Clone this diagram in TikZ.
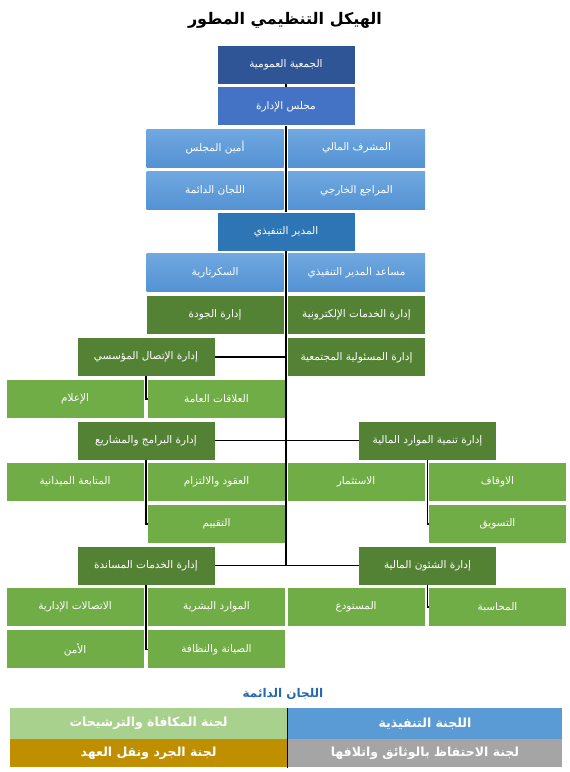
\documentclass[tikz,border=0pt]{standalone}
\usepackage{fontspec}
\usepackage{xcolor}
\usepackage{tikz}
\usetikzlibrary{positioning,calc}
\TeXXeTstate=1
\newfontfamily\arabicfont[Script=Arabic]{DejaVu Sans}
\definecolor{orgNavy}{RGB}{47,85,151}
\definecolor{orgBlue}{RGB}{68,114,196}
\definecolor{orgSkyTop}{RGB}{112,168,225}
\definecolor{orgSkyBot}{RGB}{84,146,210}
\definecolor{orgSteel}{RGB}{46,117,182}
\definecolor{orgForest}{RGB}{84,130,53}
\definecolor{orgLeaf}{RGB}{112,173,71}
\definecolor{orgMint}{RGB}{169,209,142}
\definecolor{orgSea}{RGB}{91,155,213}
\definecolor{orgGold}{RGB}{191,143,0}
\definecolor{orgGray}{RGB}{165,165,165}
\definecolor{orgHead}{RGB}{36,104,176}
\newcommand{\artext}[1]{{\arabicfont\beginR #1\endR}}

\begin{document}
\begin{tikzpicture}[
    x=1pt, y=-1pt,
    boxN/.style={rectangle, fill=orgNavy, minimum width=137pt, minimum height=38pt, inner sep=1pt, align=center, text=white, font=\fontsize{10.5}{12}\selectfont},
    boxB/.style={rectangle, fill=orgBlue, minimum width=137pt, minimum height=38pt, inner sep=1pt, align=center, text=white, font=\fontsize{10.5}{12}\selectfont},
    boxS/.style={rectangle, top color=orgSkyTop, bottom color=orgSkyBot, minimum width=137pt, minimum height=38pt, inner sep=1pt, align=center, text=white, font=\fontsize{10.5}{12}\selectfont},
    boxT/.style={rectangle, fill=orgSteel, minimum width=137pt, minimum height=38pt, inner sep=1pt, align=center, text=white, font=\fontsize{10.5}{12}\selectfont},
    boxD/.style={rectangle, fill=orgForest, minimum width=137pt, minimum height=38pt, inner sep=1pt, align=center, text=white, font=\fontsize{10.5}{12}\selectfont},
    boxL/.style={rectangle, fill=orgLeaf, minimum width=137pt, minimum height=38pt, inner sep=1pt, align=center, text=white, font=\fontsize{10.5}{12}\selectfont},
    cellR/.style={rectangle, minimum width=274pt, inner sep=1pt, text=white, font=\fontsize{12.5}{14}\selectfont\bfseries},
    cellL/.style={rectangle, minimum width=278pt, inner sep=1pt, text=white, font=\fontsize{12.5}{14}\selectfont\bfseries},
    trunk/.style={draw=black, line width=1.8pt},
    link/.style={draw=black, line width=1.3pt}
]
\useasboundingbox (0,0) rectangle (570,772);
\node[font=\fontsize{16}{19}\selectfont\bfseries] (title) at (285,20) {\artext{الهيكل التنظيمي المطور}};

\node[boxN] (gen) at (286,65) {\artext{الجمعية العمومية}};
\node[boxB, below=3pt of gen] (board) {\artext{مجلس الإدارة}};
\node[boxS] (finsup) at (356.5,148) {\artext{المشرف المالي}};
\node[boxS, left=4pt of finsup] (secr) {\artext{أمين المجلس}};
\node[boxS, below=4pt of finsup] (audit) {\artext{المراجع الخارجي}};
\node[boxS, left=4pt of audit] (perm) {\artext{اللجان الدائمة}};
\node[boxT] (ceo) at (286,231.5) {\artext{المدير التنفيذي}};
\node[boxS] (asst) at (356.5,272.5) {\artext{مساعد المدير التنفيذي}};
\node[boxS, left=4pt of asst] (sec) {\artext{السكرتارية}};
\node[boxD, below=4pt of asst] (eserv) {\artext{إدارة الخدمات الإلكترونية}};
\node[boxD, left=4pt of eserv] (qual) {\artext{إدارة الجودة}};
\node[boxD, below=4pt of eserv] (csr) {\artext{إدارة المسئولية المجتمعية}};

\node[boxD] (comm) at (146,357) {\artext{إدارة الإتصال المؤسسي}};
\node[boxL] (pr) at (216.5,399) {\artext{العلاقات العامة}};
\node[boxL, left=4pt of pr] (media) {\artext{الإعلام}};

\node[boxD] (prog) at (146,440.5) {\artext{إدارة البرامج والمشاريع}};
\node[boxL] (contr) at (216.5,481.5) {\artext{العقود والالتزام}};
\node[boxL, left=4pt of contr] (field) {\artext{المتابعة الميدانية}};
\node[boxL, below=4pt of contr] (eval) {\artext{التقييم}};

\node[boxD] (fund) at (427.5,440.5) {\artext{إدارة تنمية الموارد المالية}};
\node[boxL] (awqaf) at (497.5,481.5) {\artext{الاوقاف}};
\node[boxL, left=4pt of awqaf] (invest) {\artext{الاستثمار}};
\node[boxL, below=4pt of awqaf] (mkt) {\artext{التسويق}};

\node[boxD] (support) at (146,565.5) {\artext{إدارة الخدمات المساندة}};
\node[boxL] (hr) at (216.5,607) {\artext{الموارد البشرية}};
\node[boxL, left=4pt of hr] (adcomm) {\artext{الاتصالات الإدارية}};
\node[boxL, below=4pt of hr] (maint) {\artext{الصيانة والنظافة}};
\node[boxL, left=4pt of maint] (guard) {\artext{الأمن}};

\node[boxD] (fin) at (427.5,565.5) {\artext{إدارة الشئون المالية}};
\node[boxL] (acct) at (497.5,607) {\artext{المحاسبة}};
\node[boxL, left=4pt of acct] (store) {\artext{المستودع}};

\coordinate (tend) at (286,565.5);
\draw[trunk] (gen.south) -- (board.north);
\draw[trunk] (board.south) -- (ceo.north);
\draw[trunk] (ceo.south) -- (tend);
\draw[trunk] (comm.east) -- (comm.east -| tend);
\draw[trunk] (prog.east) -- (fund.west);
\draw[trunk] (support.east) -- (fin.west);
\draw[link] (comm.south) |- (pr.west);
\draw[link] (prog.south) |- (eval.west);
\draw[link] (fund.south) |- (mkt.west);
\draw[link] (support.south) |- (maint.west);
\draw[link] (fin.south) |- (acct.west);

\node[text=orgHead, font=\fontsize{12}{14}\selectfont\bfseries] (cmtitle) at (283,694) {\artext{اللجان الدائمة}};
\node[cellR, fill=orgSea, minimum height=31pt] (exec) at (425,723.5) {\artext{اللجنة التنفيذية}};
\node[cellL, fill=orgMint, minimum height=31pt, left=0pt of exec] (nomin) {\artext{لجنة المكافاة والترشيحات}};
\node[cellR, fill=orgGray, minimum height=28pt, below=0pt of exec] (archive) {\artext{لجنة الاحتفاظ بالوثائق واتلافها}};
\node[cellL, fill=orgGold, minimum height=28pt, left=0pt of archive] (inventory) {\artext{لجنة الجرد ونقل العهد}};
\draw[black, line width=0.8pt] (exec.north west) -- (archive.south west);
\end{tikzpicture}
\end{document}
